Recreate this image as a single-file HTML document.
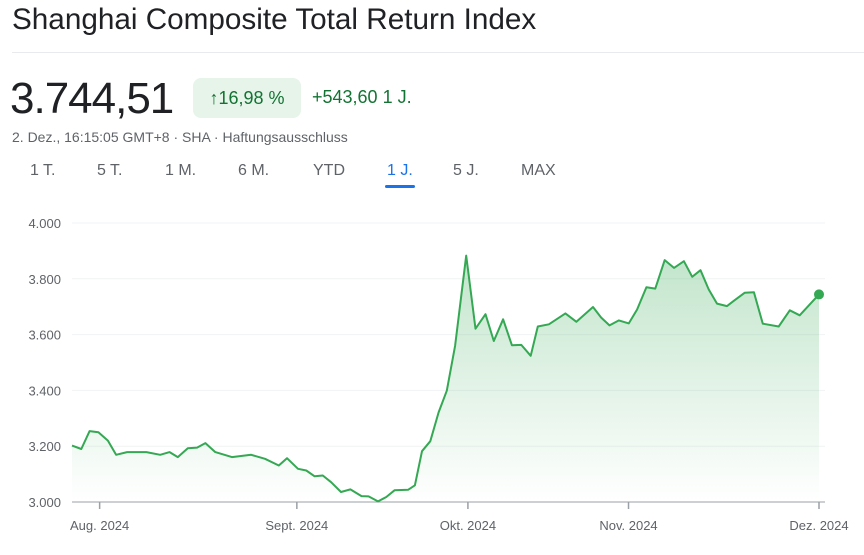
<!DOCTYPE html>
<html><head><meta charset="utf-8"><style>
body{margin:0;width:864px;height:555px;background:#fff;font-family:"Liberation Sans",sans-serif;position:relative;overflow:hidden}
.a{position:absolute;white-space:nowrap}
.tab{position:absolute;top:162px;font-size:16px;color:#5f6368}
</style></head><body>
<div class="a" style="left:12px;top:3px;font-size:29.7px;color:#202124">Shanghai Composite Total Return Index</div>
<div class="a" style="left:12px;top:52px;width:852px;height:1px;background:#e8eaed"></div>
<div class="a" style="left:10px;top:74px;font-size:44px;color:#202124;letter-spacing:-1px">3.744,51</div>
<div class="a" style="left:193px;top:78px;width:108px;height:40px;border-radius:8px;background:#e6f4ea;color:#137333;font-size:18px;line-height:40px;text-align:center">↑16,98 %</div>
<div class="a" style="left:312px;top:87px;font-size:18px;color:#137333">+543,60 1 J.</div>
<div class="a" style="left:12px;top:129px;font-size:14px;color:#5f6368">2. Dez., 16:15:05 GMT+8 · SHA · Haftungsausschluss</div>
<div class="tab" style="left:30px">1 T.</div>
<div class="tab" style="left:97px">5 T.</div>
<div class="tab" style="left:165px">1 M.</div>
<div class="tab" style="left:238px">6 M.</div>
<div class="tab" style="left:313px">YTD</div>
<div class="tab" style="left:387px;color:#1a73e8">1 J.</div>
<div class="a" style="left:385px;top:185px;width:30px;height:3px;background:#1a73e8;border-radius:2px"></div>
<div class="tab" style="left:453px">5 J.</div>
<div class="tab" style="left:521px">MAX</div>
<svg id="chart" width="864" height="555" style="position:absolute;left:0;top:0">
<defs><linearGradient id="g" x1="0" y1="0" x2="0" y2="1"><stop offset="0" stop-color="#34a853" stop-opacity="0.3"/><stop offset="1" stop-color="#34a853" stop-opacity="0"/></linearGradient></defs>
</svg>
<script>
const times=[0,1.25,2.36,3.54,4.80,5.90,7.38,9.96,11.81,13.06,14.17,15.50,16.75,17.86,19.19,21.40,23.99,25.83,27.68,28.78,30.26,31.37,32.47,33.58,34.69,36.01,37.27,38.75,39.70,40.96,42.07,43.17,45.02,45.90,46.86,47.97,49.08,50.18,51.29,52.77,54.02,55.35,56.46,57.71,58.89,60.15,61.40,62.36,63.84,66.05,67.53,69.74,70.85,71.96,73.21,74.54,75.65,76.90,78.08,79.34,80.59,81.92,83.03,84.13,85.24,86.35,87.68,88.56,90.04,91.29,92.47,94.61,96.09,97.42,100];
const values=[3202,3190,3254,3250,3220,3169,3179,3179,3169,3179,3161,3193,3195,3211,3179,3161,3169,3155,3131,3157,3119,3113,3092,3095,3071,3036,3045,3021,3020,3002,3018,3042,3044,3060,3182,3218,3321,3399,3560,3883,3621,3673,3577,3655,3562,3563,3524,3629,3637,3676,3646,3699,3661,3633,3651,3640,3690,3770,3765,3867,3839,3863,3807,3831,3762,3711,3702,3720,3750,3752,3639,3629,3687,3669,3744];
const yTicks=[3000,3200,3400,3600,3800,4000];
const yTickLabels=["3.000","3.200","3.400","3.600","3.800","4.000"];
const xTicks=[3.7,30.1,53.0,74.5,100];
const xTickLabels=["Aug. 2024","Sept. 2024","Okt. 2024","Nov. 2024","Dez. 2024"];
const svg=document.getElementById('chart');const NS='http://www.w3.org/2000/svg';
const X0=72,X1=819,Y0=502,Y1=223;
const xs=t=>X0+(t-0)/(100-0)*(X1-X0);
const ys=v=>Y0-(v-3000)/(4000-3000)*(Y0-Y1);
function mk(tag,at){const e=document.createElementNS(NS,tag);for(const k in at)e.setAttribute(k,at[k]);svg.appendChild(e);return e;}
yTicks.forEach((v,i)=>{
 if(i>0){const l=mk('line',{x1:X0,x2:X1+6,y1:ys(v),y2:ys(v),stroke:'#f1f3f4','stroke-width':1});
 
 }
 const t=mk('text',{x:61,y:ys(v)+5,'text-anchor':'end','font-size':13,fill:'#5f6368','font-family':'Liberation Sans, sans-serif'});t.textContent=yTickLabels[i];
 
 
});
const ax=mk('line',{x1:X0,x2:X1+6,y1:Y0,y2:Y0,stroke:'#9aa0a6','stroke-width':1});


xTicks.forEach((t,i)=>{
 const l=mk('line',{x1:xs(t),x2:xs(t),y1:Y0,y2:Y0+7,stroke:'#9aa0a6','stroke-width':1.5});
 
 
 const tx=mk('text',{x:xs(t),y:530,'text-anchor':'middle','font-size':13,fill:'#5f6368','font-family':'Liberation Sans, sans-serif'});tx.textContent=xTickLabels[i];
 
 
});
let d=times.map((t,i)=>(i?'L':'M')+xs(t).toFixed(1)+' '+ys(values[i]).toFixed(1)).join(' ');
const area=mk('path',{d:d+` L${xs(times[times.length-1])} ${Y0} L${xs(times[0])} ${Y0} Z`,fill:'url(#g)'});


const line=mk('path',{d:d,fill:'none',stroke:'#34a853','stroke-width':2,'stroke-linejoin':'round'});


const n=times.length-1;
const dot=mk('circle',{cx:xs(times[n]),cy:ys(values[n]),r:5,fill:'#34a853'});


</script>
</body></html>
